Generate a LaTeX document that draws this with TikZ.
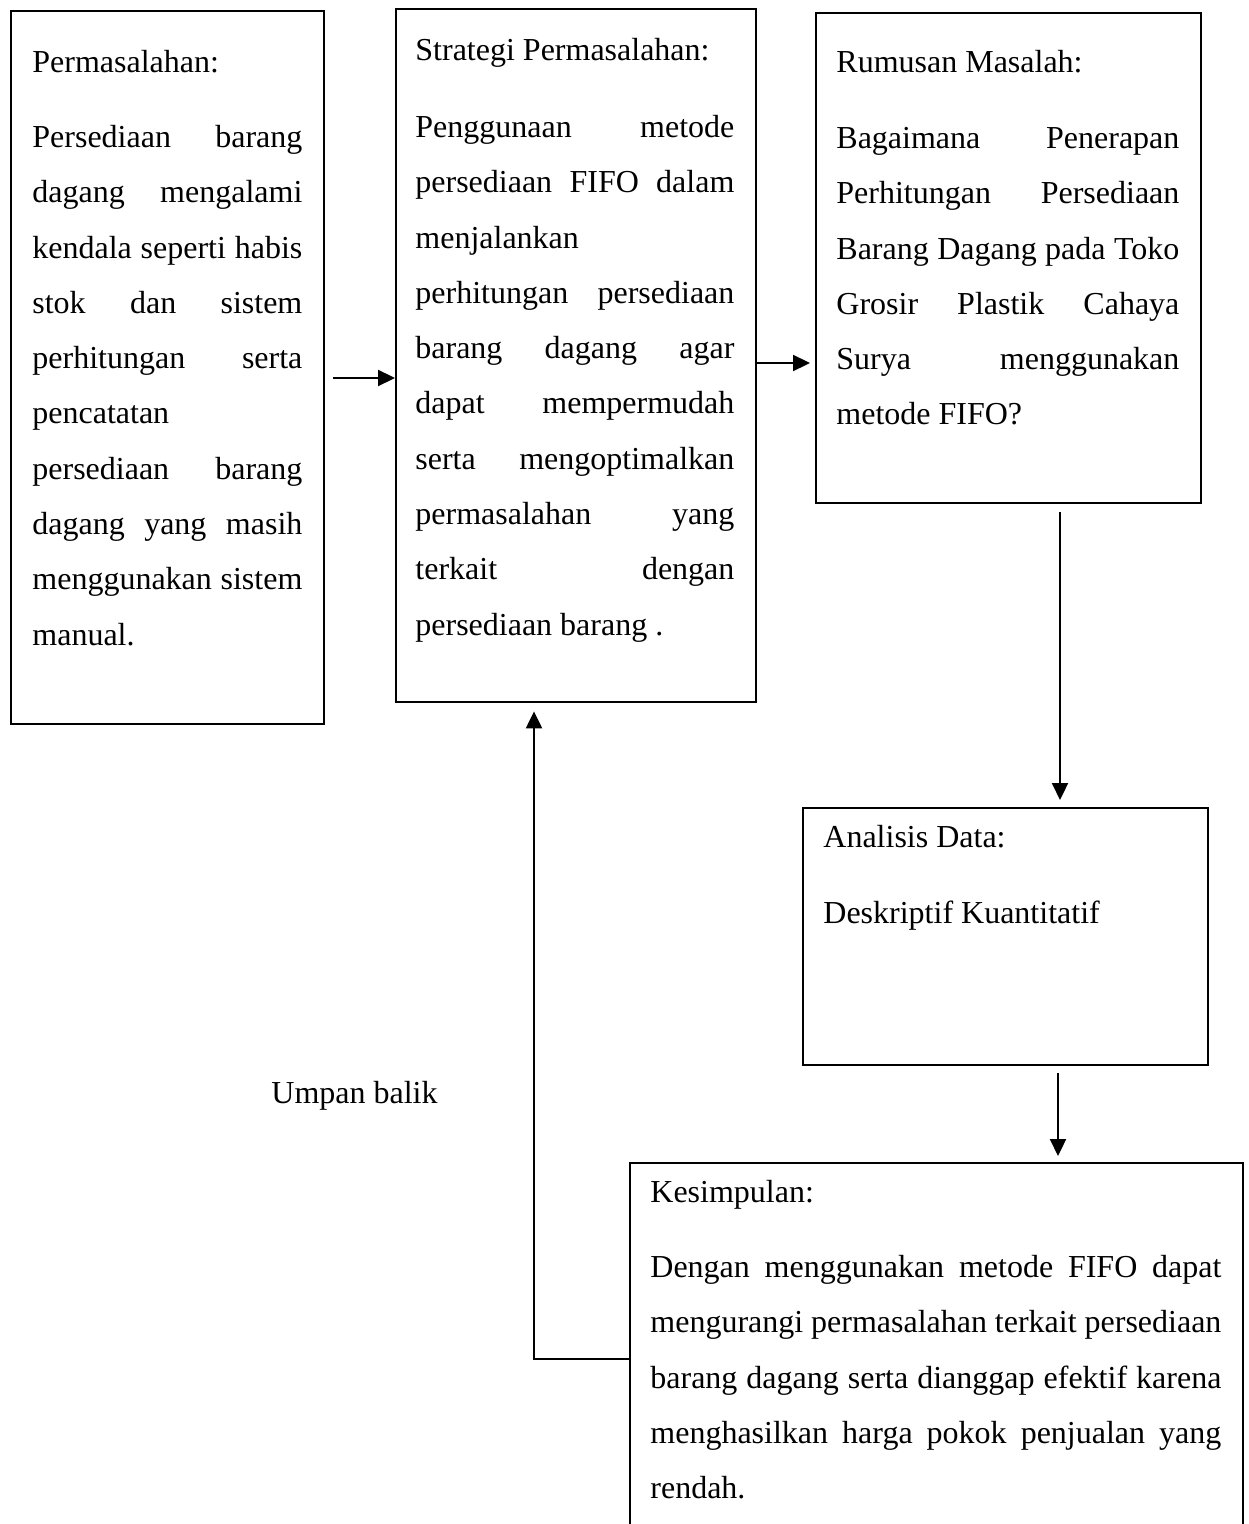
\documentclass[tikz,border=0pt]{standalone}
\usepackage{fontspec}
\setmainfont{Liberation Serif}
\usetikzlibrary{arrows.meta,calc}
\newcommand{\jl}[2]{\makebox[#1][s]{#2}}
\newcommand{\fst}{\rule{0pt}{12pt}}
\begin{document}
\begin{tikzpicture}[x=0.5pt,y=-0.5pt,
  box/.style={draw,line width=1.2pt,rectangle,inner sep=0pt,anchor=north west},
  txt/.style={anchor=north west,inner sep=0pt,align=left,font=\fontsize{16}{27.65}\selectfont},
  lbl/.style={anchor=base west,inner sep=0pt,font=\fontsize{16}{20}\selectfont},
  arr/.style={line width=1.1pt,-{Triangle[length=8.5pt,width=8pt]}}]
\clip (0,0) rectangle (1248,1524);
\fill[white] (0,0) rectangle (1248,1524);
% boxes
\node[box,minimum width=156.5pt,minimum height=356.5pt] (b1) at (10,10) {};
\node[box,minimum width=180pt,minimum height=346.5pt] (b2) at (395,8) {};
\node[box,minimum width=192.5pt,minimum height=245pt] (b3) at (815,12) {};
\node[box,minimum width=202.5pt,minimum height=128.5pt] (b4) at (802,807) {};
\node[box,minimum width=306.5pt,minimum height=199pt] (b5) at (629,1162) {};
% texts
\node[txt] (t1) at (32,48) {\fst Permasalahan:\\[9.85pt]
\jl{135pt}{Persediaan barang}\\
\jl{135pt}{dagang mengalami}\\
\jl{135pt}{kendala seperti habis}\\
\jl{135pt}{stok dan sistem}\\
\jl{135pt}{perhitungan serta}\\
pencatatan\\
\jl{135pt}{persediaan barang}\\
\jl{135pt}{dagang yang masih}\\
\jl{135pt}{menggunakan sistem}\\
manual.};
\node[txt] (t2) at (415,36) {\fst Strategi Permasalahan:\\[10.85pt]
\jl{159.5pt}{Penggunaan metode}\\
\jl{159.5pt}{persediaan FIFO dalam}\\
menjalankan\\
\jl{159.5pt}{perhitungan persediaan}\\
\jl{159.5pt}{barang dagang agar}\\
\jl{159.5pt}{dapat mempermudah}\\
\jl{159.5pt}{serta mengoptimalkan}\\
\jl{159.5pt}{permasalahan yang}\\
\jl{159.5pt}{terkait dengan}\\
persediaan barang .};
\node[txt] (t3) at (836,48) {\fst Rumusan Masalah:\\[10.35pt]
\jl{171.5pt}{Bagaimana Penerapan}\\
\jl{171.5pt}{Perhitungan Persediaan}\\
\jl{171.5pt}{Barang Dagang pada Toko}\\
\jl{171.5pt}{Grosir Plastik Cahaya}\\
\jl{171.5pt}{Surya menggunakan}\\
metode FIFO?};
\node[txt] (t4) at (823,823) {\fst Analisis Data:\\[10.35pt]
Deskriptif Kuantitatif};
\node[txt] (t5) at (650,1178) {\fst Kesimpulan:\\[9.85pt]
\jl{285.5pt}{Dengan menggunakan metode FIFO dapat}\\
\jl{285.5pt}{mengurangi permasalahan terkait persediaan}\\
\jl{285.5pt}{barang dagang serta dianggap efektif karena}\\
\jl{285.5pt}{menghasilkan harga pokok penjualan yang}\\
rendah.};
\node[lbl] (ub) at (271,1103) {Umpan balik};
% helper coordinates
\coordinate (ya) at (0,378);
\coordinate (yb) at (0,363);
\coordinate (xc) at (1060,0);
\coordinate (xd) at (1058,0);
\coordinate (yf) at (0,1359);
\coordinate (xf) at (534,0);
% connectors
\draw[arr,shorten <=4pt] (b1.east |- ya) -- (b2.west |- ya);
\draw[arr,shorten >=2.5pt] (b2.east |- yb) -- (b3.west |- yb);
\draw[arr,shorten <=4pt,shorten >=3.5pt] (b3.south -| xc) -- (b4.north -| xc);
\draw[arr,shorten <=3.5pt,shorten >=3pt] (b4.south -| xd) -- (b5.north -| xd);
\draw[arr,shorten >=4pt] (b5.west |- yf) -- (xf |- yf) -- (b2.south -| xf);
\end{tikzpicture}
\end{document}
